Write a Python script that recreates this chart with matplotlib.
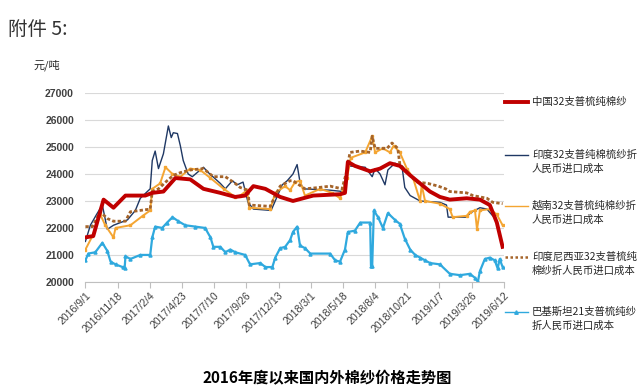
import matplotlib
matplotlib.use("Agg")
import matplotlib.pyplot as plt
import pandas as pd
from matplotlib.lines import Line2D

plt.rcParams['font.family'] = ['Noto Sans CJK SC', 'DejaVu Sans']

# 中国32支普梳纯棉纱
china_dates = ['2016-09-01', '2016-09-20', '2016-10-15', '2016-11-08', '2016-12-07', '2017-01-24',
               '2017-02-10', '2017-03-09', '2017-04-07', '2017-05-13', '2017-06-14', '2017-07-25',
               '2017-08-30', '2017-09-23', '2017-10-13', '2017-11-11', '2017-12-17', '2018-01-17',
               '2018-03-07', '2018-05-11', '2018-05-23', '2018-05-30', '2018-06-16', '2018-07-23',
               '2018-08-16', '2018-09-09', '2018-10-03', '2018-10-28', '2018-11-21', '2018-12-15',
               '2019-01-08', '2019-02-01', '2019-03-14', '2019-04-15', '2019-05-09', '2019-05-26',
               '2019-06-09']
china_vals = [21650, 21700, 23050, 22750, 23200, 23200,
              23300, 23350, 23850, 23800, 23450, 23300,
              23150, 23200, 23550, 23450, 23150, 23000,
              23200, 23250, 23300, 24450, 24300, 24100,
              24200, 24400, 24300, 23950, 23650, 23350,
              23150, 23050, 23100, 23050, 22850, 22200,
              21300]

# 印度32支
india_dates = ['2016-09-01', '2016-09-13', '2016-09-28', '2016-10-12', '2016-10-24', '2016-11-08',
               '2016-12-12', '2016-12-31', '2017-01-12', '2017-01-29', '2017-02-05', '2017-02-10',
               '2017-02-17', '2017-02-25', '2017-03-09', '2017-03-21', '2017-03-28', '2017-04-02',
               '2017-04-12', '2017-04-19', '2017-04-26', '2017-05-08', '2017-05-18', '2017-06-14',
               '2017-06-26', '2017-07-25', '2017-08-06', '2017-08-23', '2017-09-04', '2017-09-18',
               '2017-09-30', '2017-10-13', '2017-11-25', '2017-12-05', '2017-12-22', '2018-01-03',
               '2018-01-17', '2018-01-27', '2018-02-03', '2018-02-11', '2018-04-17', '2018-05-18',
               '2018-05-30', '2018-07-11', '2018-07-28', '2018-08-04', '2018-08-16', '2018-08-28',
               '2018-09-04', '2018-09-21', '2018-10-08', '2018-10-15', '2018-10-28', '2018-11-21',
               '2019-01-08', '2019-01-24', '2019-01-28', '2019-03-14', '2019-03-22', '2019-04-03',
               '2019-04-15', '2019-05-02', '2019-05-16']
india_vals = [21500, 22100, 22500, 22850, 21950, 22100,
              22300, 22650, 23100, 23350, 23450, 24500,
              24850, 24200, 24750, 25780, 25350, 25530,
              25500, 25050, 24500, 24000, 23900, 24250,
              24050, 23650, 23450, 23750, 23600, 23700,
              22950, 22700, 22650, 23000, 23600, 23750,
              24000, 24350, 23700, 23450, 23400, 23350,
              24300, 24250, 23900, 24200, 24000, 23600,
              24150, 24400, 24300, 23500, 23200, 23000,
              22950, 22850, 22400, 22400, 22550, 22650,
              22750, 22700, 22450]

# 越南32支
vietnam_dates = ['2016-09-01', '2016-09-18', '2016-10-07', '2016-10-19', '2016-11-08', '2016-11-13',
                 '2016-12-19', '2017-01-18', '2017-02-05', '2017-02-10', '2017-03-01', '2017-03-14',
                 '2017-03-31', '2017-04-19', '2017-05-13', '2017-06-06', '2017-07-01', '2017-08-02',
                 '2017-08-30', '2017-09-11', '2017-09-28', '2017-10-03', '2017-11-23', '2017-12-05',
                 '2017-12-29', '2018-01-10', '2018-01-22', '2018-02-03', '2018-02-15', '2018-03-24',
                 '2018-04-22', '2018-05-11', '2018-05-28', '2018-06-06', '2018-07-11', '2018-07-28',
                 '2018-08-04', '2018-08-23', '2018-09-09', '2018-09-18', '2018-10-03', '2018-10-20',
                 '2018-11-04', '2018-11-21', '2018-11-25', '2018-12-03', '2019-01-08', '2019-02-01',
                 '2019-02-08', '2019-03-14', '2019-03-22', '2019-04-03', '2019-04-08', '2019-04-15',
                 '2019-05-09', '2019-05-26', '2019-06-09']
vietnam_vals = [21200, 21700, 22500, 22100, 21650, 22000,
                22100, 22450, 22650, 23450, 23650, 24250,
                24000, 23900, 24200, 24150, 23850, 23450,
                23150, 23200, 23400, 22750, 22700, 23300,
                23550, 23400, 23700, 23750, 23200, 23450,
                23300, 23100, 23850, 24600, 24800, 25400,
                24800, 24950, 24800, 25050, 24800, 24200,
                23850, 23000, 23600, 23000, 22900, 22700,
                22400, 22450, 22600, 22650, 21950, 22650,
                22700, 22500, 22100]

# 印度尼西亚32支
indo_dates = ['2016-09-01', '2016-09-18', '2016-10-07', '2016-10-24', '2016-11-08', '2016-12-07',
              '2016-12-19', '2017-02-05', '2017-02-10', '2017-02-25', '2017-03-18', '2017-04-02',
              '2017-04-19', '2017-05-13', '2017-06-14', '2017-07-08', '2017-08-06', '2017-08-30',
              '2017-09-11', '2017-09-30', '2017-10-03', '2017-11-23', '2017-12-05', '2017-12-17',
              '2018-01-10', '2018-01-17', '2018-02-15', '2018-03-21', '2018-04-17', '2018-05-16',
              '2018-05-28', '2018-06-04', '2018-06-29', '2018-07-23', '2018-07-28', '2018-08-04',
              '2018-09-02', '2018-09-14', '2018-09-28', '2018-10-03', '2018-10-20', '2018-10-28',
              '2018-11-14', '2018-12-10', '2019-01-04', '2019-01-22', '2019-02-01', '2019-03-14',
              '2019-03-29', '2019-05-02', '2019-05-16', '2019-06-09']
indo_vals = [22050, 22050, 22600, 22350, 22250, 22250,
             22600, 22700, 23350, 23450, 23750, 23950,
             24050, 24150, 24200, 23900, 23900, 23650,
             23500, 23400, 22850, 22800, 23200, 23550,
             23750, 23750, 23450, 23500, 23550, 23450,
             24150, 24800, 24850, 24800, 25400, 24950,
             24950, 25150, 24950, 24350, 24100, 23950,
             23700, 23650, 23550, 23450, 23350, 23300,
             23200, 23100, 22950, 22900]

# 巴基斯坦21支
pak_dates = ['2016-09-01', '2016-09-08', '2016-09-25', '2016-10-12', '2016-10-24', '2016-11-01',
             '2016-11-13', '2016-11-30', '2016-12-05', '2016-12-07', '2016-12-19', '2017-01-12',
             '2017-02-05', '2017-02-10', '2017-02-17', '2017-03-06', '2017-03-18', '2017-03-31',
             '2017-04-14', '2017-05-01', '2017-05-25', '2017-06-18', '2017-07-01', '2017-07-08',
             '2017-07-25', '2017-08-06', '2017-08-18', '2017-08-30', '2017-09-23', '2017-10-05',
             '2017-10-30', '2017-11-11', '2017-11-28', '2017-12-05', '2017-12-17', '2017-12-29',
             '2018-01-10', '2018-01-17', '2018-01-27', '2018-02-03', '2018-02-15', '2018-02-28',
             '2018-04-17', '2018-04-29', '2018-05-11', '2018-05-23', '2018-05-30', '2018-06-16',
             '2018-06-29', '2018-07-23', '2018-07-25', '2018-07-28', '2018-08-01', '2018-08-11',
             '2018-08-23', '2018-09-04', '2018-09-21', '2018-10-03', '2018-10-15', '2018-10-28',
             '2018-11-09', '2018-11-21', '2018-12-03', '2018-12-15', '2019-01-08', '2019-02-01',
             '2019-02-26', '2019-03-22', '2019-04-03', '2019-04-10', '2019-04-15', '2019-04-27',
             '2019-05-09', '2019-05-21', '2019-05-28', '2019-06-02', '2019-06-09']
pak_vals = [20800, 21050, 21100, 21450, 21150, 20750,
            20650, 20550, 20500, 20950, 20850, 21000,
            21000, 21650, 22050, 22000, 22200, 22400,
            22250, 22100, 22050, 22000, 21650, 21300,
            21300, 21100, 21200, 21100, 21000, 20650,
            20700, 20550, 20550, 20900, 21250, 21300,
            21550, 21850, 22050, 21350, 21250, 21050,
            21050, 20800, 20750, 21200, 21850, 21900,
            22200, 22200, 20600, 20600, 22650, 22400,
            22000, 22550, 22300, 22150, 21600, 21200,
            21000, 20900, 20800, 20700, 20650, 20300,
            20250, 20300, 20150, 20000, 20400, 20850,
            20900, 20800, 20500, 20850, 20550]

tick_labels = ['2016/9/1', '2016/11/18', '2017/2/4', '2017/4/23', '2017/7/10', '2017/9/26',
               '2017/12/13', '2018/3/1', '2018/5/18', '2018/8/4', '2018/10/21', '2019/1/7',
               '2019/3/26', '2019/6/12']

legend_labels = [['中国32支普梳纯棉纱'],
                 ['印度32支普纯棉梳纱折', '人民币进口成本'],
                 ['越南32支普梳纯棉纱折', '人民币进口成本'],
                 ['印度尼西亚32支普梳纯', '棉纱折人民币进口成本'],
                 ['巴基斯坦21支普梳纯纱', '折人民币进口成本']]

c_china = '#C00000'
c_india = '#1F3864'
c_viet = '#F4A532'
c_indo = '#A5642A'
c_pak = '#2FA9DE'

fig = plt.figure(figsize=(6.44, 3.91), dpi=100)
ax = fig.add_axes([0.132, 0.279, 0.651, 0.483])

ax.plot(pd.to_datetime(pak_dates), pak_vals, color=c_pak, lw=1.6, marker='^', ms=2.2, zorder=2)
ax.plot(pd.to_datetime(india_dates), india_vals, color=c_india, lw=1.0, zorder=3)
ax.plot(pd.to_datetime(vietnam_dates), vietnam_vals, color=c_viet, lw=1.4, marker='s', ms=1.6,
        zorder=4)
ax.plot(pd.to_datetime(indo_dates), indo_vals, color=c_indo, lw=2.0, ls=(0, (1.2, 0.8)), zorder=5)
ax.plot(pd.to_datetime(china_dates), china_vals, color=c_china, lw=2.8, zorder=6)

ticks = pd.to_datetime(tick_labels, format='%Y/%m/%d')
ax.set_xlim(ticks[0] - pd.Timedelta(days=1), ticks[-1] + pd.Timedelta(days=1))
ax.set_ylim(20000, 27000)
ax.set_yticks(range(20000, 27001, 1000))
ax.set_xticks(ticks)
ax.set_xticklabels(tick_labels, rotation=45, ha='right', rotation_mode='anchor',
                   fontsize=7.6, color='#404040', family=['Liberation Sans', 'DejaVu Sans'])
for lb in ax.get_yticklabels():
    lb.set_fontsize(7.5)
    lb.set_fontweight('bold')
    lb.set_color('#404040')
    lb.set_family(['Liberation Sans', 'DejaVu Sans'])
ax.tick_params(axis='y', length=0, pad=8)
ax.tick_params(axis='x', length=4, color='#BFBFBF', pad=2)
ax.grid(axis='y', color='#D9D9D9', lw=0.8)
ax.set_axisbelow(True)
for s in ['left', 'right', 'top']:
    ax.spines[s].set_visible(False)
ax.spines['bottom'].set_color('#BFBFBF')

# legend drawn by hand at the right, line level with first text row
styles = [dict(color=c_china, lw=2.8),
          dict(color=c_india, lw=1.0),
          dict(color=c_viet, lw=1.0),
          dict(color=c_indo, lw=1.8, ls=(0, (1, 1))),
          dict(color=c_pak, lw=1.0, marker='^', ms=2.5, markevery=[1])]
ys = [102, 155, 206, 257, 312]
for st, rows, yp in zip(styles, legend_labels, ys):
    yf = 1 - yp / 391
    ln = Line2D([505 / 644, 516 / 644, 528 / 644], [yf, yf, yf], transform=fig.transFigure, **st)
    fig.add_artist(ln)
    for i, row in enumerate(rows):
        fig.text(532 / 644, 1 - (yp + 14 * i) / 391, row, fontsize=7.5, va='center',
                 ha='left', color='#262626')

fig.text(8 / 644, 1 - 29 / 391, '附件 5:', fontsize=14, va='center', color='#333333')
fig.text(33 / 644, 1 - 65 / 391, '元/吨', fontsize=8, va='center', color='#262626')
fig.text(327 / 644, 1 - 378 / 391, '2016年度以来国内外棉纱价格走势图', fontsize=11,
         fontweight='bold', ha='center', va='center', color='black')

fig.savefig('out.png', dpi=100)
